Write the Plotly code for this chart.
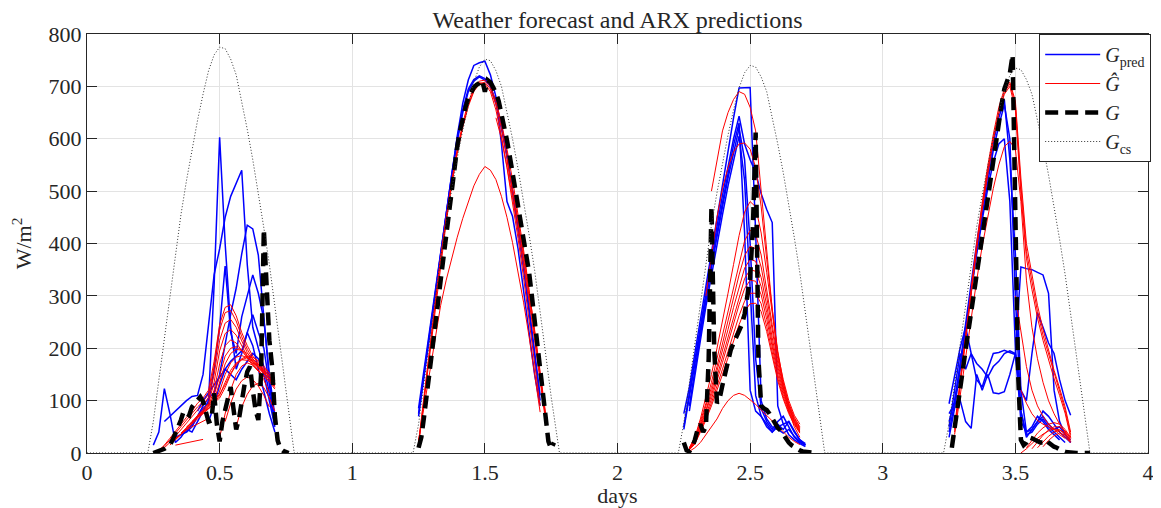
import plotly.graph_objects as go

FONT = "Liberation Serif"
DAYS = [0, 1, 2, 3]

# ---------------- clear-sky irradiance G_cs (hour of day -> W/m2) ----------------
CS_HOURS = [0, 5.5, 6.0, 6.5, 7.0, 7.5, 8.0, 8.5, 9.0, 9.5, 10.0, 10.5, 11.0, 11.5, 12.0,
            12.5, 13.0, 13.5, 14.0, 14.5, 15.0, 15.5, 16.0, 16.5, 17.0, 17.5, 18.0, 18.5, 18.75, 24]
CS_D1 = [0, 0, 60, 140, 220, 300, 385, 455, 520, 580, 635, 685, 730, 760, 775, 772, 752, 722, 672, 618, 560, 497, 430, 360, 280, 195, 110, 35, 0, 0]
CS_D2 = [0, 0, 55, 135, 213, 292, 373, 442, 505, 563, 617, 665, 708, 737, 752, 749, 730, 700, 652, 600, 543, 482, 417, 349, 272, 189, 107, 34, 0, 0]
CS_D3 = [0, 0, 57, 134, 210, 287, 368, 435, 497, 554, 607, 655, 697, 726, 740, 737, 718, 690, 642, 590, 535, 475, 411, 344, 267, 186, 105, 33, 0, 0]
CS_D4 = [0, 0, 56, 133, 209, 285, 365, 432, 493, 550, 603, 650, 693, 721, 735, 732, 713, 685, 638, 586, 531, 472, 408, 341, 265, 185, 104, 33, 0, 0]

# ---------------- measured G (quarter-hour samples from start hour) ----------------
G_STEP_H = 0.25
G_START_H = [6.0, 6.0, 6.0, 6.25]
G_D1 = [0, 2, 3, 5, 8, 12, 15, 25, 38, 48, 63, 80, 76, 72, 88, 95, 101, 107, 98, 80,
        60, 62, 114, 55, 22, 60, 85, 100, 126, 85, 45, 65, 100, 130, 155, 165, 120, 82, 63, 150,
        427, 300, 215, 165, 70, 24, 8, 4, 2, 0]
G_D2 = [10, 30, 70, 110, 150, 195, 240, 285, 330, 375, 418, 460, 505, 545, 585, 615, 640, 660, 678, 690,
        698, 703, 706, 712, 690, 712, 708, 698, 688, 672, 650, 625, 597, 567, 535, 505, 475, 443, 410, 378,
        345, 300, 255, 210, 165, 118, 65, 22, 8, 20]
G_D3 = [20, 5, 3, 10, 25, 45, 55, 40, 50, 180, 470, 200, 95, 105, 130, 155, 180, 197, 210, 222,
        232, 245, 265, 300, 335, 430, 612, 180, 90, 85, 82, 75, 65, 55, 48, 43, 35, 28, 20, 15,
        11, 8, 5, 3, 2, 1, 0, 0, 0]
G_D4 = [10, 50, 88, 125, 160, 197, 233, 270, 305, 342, 378, 415, 450, 487, 522, 560, 595, 630, 665, 695,
        712, 725, 760, 500, 150, 25, 15, 20, 30, 28, 25, 22, 20, 20, 25, 20, 15, 12, 10, 6,
        4, 2, 1, 0, 0, 0, 0, 0, 0, 0, 0]

# ---------------- forecasts: half-hour samples from each start hour ----------------
LINE_STEP_H = 0.5

# weather forecast G_pred
PRED_D1_START_H = [6.0, 7.0, 8.0, 9.0, 10.0, 11.0]
PRED_D1 = [
    [15, 40, 123, 75, 20, 30, 45, 40, 60, 80, 100, 320, 603, 400, 240, 160, 190, 230, 205, 160, 115, 75, 40],
    [60, 70, 80, 90, 100, 108, 110, 150, 250, 340, 390, 450, 490, 515, 540, 360, 240, 200, 165, 115, 55],
    [30, 35, 40, 50, 70, 90, 105, 115, 150, 210, 265, 315, 380, 435, 428, 378, 255, 140, 63],
    [40, 55, 70, 85, 95, 160, 240, 357, 230, 190, 260, 300, 340, 305, 255, 150, 70],
    [80, 100, 115, 130, 145, 160, 175, 185, 195, 230, 264, 230, 200, 130, 60],
    [60, 90, 130, 160, 150, 140, 160, 175, 190, 180, 150, 100, 50],
]
PRED_D2_START_H = [6.0, 6.0, 6.0]
PRED_D2 = [
    [85, 160, 235, 312, 388, 462, 535, 605, 668, 712, 740, 745, 748, 722, 680, 590, 480, 452, 390, 310, 230, 150, 90],
    [70, 148, 226, 304, 380, 455, 527, 595, 650, 690, 710, 718, 712, 700, 670, 625, 570, 505, 435, 360, 280, 195, 110],
    [75, 152, 230, 308, 385, 460, 532, 600, 655, 695, 713, 720, 715, 700, 668, 620, 565, 500, 430, 352, 270, 185, 100],
]
PRED_D3_START_H = [6.0, 6.0, 6.0, 6.5, 6.5]
PRED_D3 = [
    [75, 125, 190, 255, 320, 385, 450, 515, 578, 640, 697, 698, 698, 420, 100, 65, 50, 45, 38, 45, 32, 22, 15],
    [50, 115, 180, 245, 310, 370, 432, 492, 548, 600, 643, 590, 560, 535, 495, 465, 440, 90, 55, 60, 42, 25, 18],
    [45, 108, 172, 236, 298, 360, 420, 478, 535, 588, 630, 420, 120, 80, 70, 55, 40, 50, 55, 35, 25, 18, 12],
    [90, 160, 228, 292, 355, 415, 470, 525, 575, 620, 560, 400, 180, 85, 60, 45, 60, 70, 50, 30, 20, 15],
    [80, 150, 215, 280, 340, 398, 455, 510, 560, 605, 520, 300, 110, 70, 50, 40, 55, 45, 60, 40, 25, 15],
]
PRED_D4_START_H = [6.0, 6.0, 6.0, 6.0, 6.0, 6.0]
PRED_D4 = [
    [40, 95, 170, 250, 325, 400, 470, 535, 592, 640, 675, 560, 380, 120, 40, 45, 60, 70, 55, 45, 50, 35, 20],
    [30, 85, 160, 238, 312, 385, 455, 520, 578, 625, 665, 600, 300, 80, 35, 40, 55, 65, 50, 40, 30, 20],
    [60, 100, 165, 240, 310, 380, 445, 505, 555, 590, 600, 480, 200, 60, 40, 50, 70, 60, 45, 35, 25],
    [75, 95, 101, 60, 47, 150, 120, 150, 115, 113, 117, 150, 190, 355, 352, 350, 345, 340, 305, 120, 60, 35, 25],
    [94, 150, 200, 241, 190, 171, 160, 145, 165, 175, 190, 195, 190, 120, 100, 190, 268, 240, 210, 190, 140, 100, 72],
    [50, 120, 190, 160, 190, 140, 126, 160, 190, 192, 196, 192, 188, 80, 30, 45, 60, 80, 70, 55, 40, 30, 20],
]

# ARX predictions G-hat
ARX_D1_START_H = [6.5, 6.5, 7.0, 7.5, 8.0, 8.5, 9.0, 9.0, 9.5, 10.0, 10.5, 8.0, 7.5, 12.5, 13.5, 12.0]
ARX_D1 = [
    [5, 15, 28, 42, 55, 68, 80, 95, 105, 120, 175, 245, 278, 283, 262, 230, 205, 185, 172, 162, 152],
    [4, 13, 25, 38, 50, 63, 75, 88, 98, 112, 165, 235, 268, 272, 252, 222, 198, 180, 167, 157, 147],
    [10, 20, 32, 45, 58, 70, 82, 92, 105, 150, 215, 248, 255, 240, 214, 192, 175, 163, 152, 142],
    [15, 25, 36, 48, 60, 72, 82, 95, 135, 195, 228, 236, 225, 204, 185, 170, 158, 147, 137],
    [25, 35, 47, 58, 70, 80, 90, 120, 170, 205, 216, 210, 196, 180, 167, 156, 146, 136, 122],
    [38, 48, 60, 70, 80, 90, 110, 150, 185, 200, 203, 196, 186, 175, 164, 154, 143, 130],
    [50, 58, 68, 78, 88, 100, 135, 170, 190, 198, 196, 190, 180, 170, 159, 146, 132],
    [45, 55, 64, 74, 84, 95, 118, 150, 172, 183, 186, 182, 175, 166, 155, 142, 128],
    [60, 68, 76, 84, 95, 110, 135, 158, 172, 178, 177, 172, 163, 152, 140, 125],
    [70, 78, 86, 96, 105, 125, 150, 168, 178, 182, 178, 170, 160, 148, 133],
    [85, 92, 100, 112, 130, 152, 170, 180, 185, 183, 176, 166, 153, 138],
    [15, 17, 19, 21, 23, 26],
    [20, 28, 36, 44, 50, 55, 60, 66],
    [60, 95, 122, 138, 145, 140, 128, 110, 88],
    [50, 88, 112, 128, 133, 125, 105, 80],
    [30, 75, 120, 150, 166, 172, 168, 158, 140, 115],
]
ARX_D2_START_H = [6.0, 6.0, 6.0, 6.0, 13.0, 14.0]
ARX_D2 = [
    [20, 110, 200, 290, 375, 450, 520, 580, 630, 670, 697, 710, 712, 700, 672, 630, 580, 522, 458, 388, 312, 232, 150, 70],
    [15, 100, 190, 280, 365, 440, 512, 572, 622, 662, 690, 705, 708, 695, 665, 620, 565, 505, 440, 372, 300, 225, 145, 65],
    [18, 105, 195, 285, 370, 445, 515, 575, 625, 665, 693, 707, 705, 690, 655, 605, 548, 488, 425, 360, 290, 215, 140, 60],
    [24, 90, 158, 222, 282, 330, 372, 412, 448, 480, 510, 532, 547, 540, 522, 490, 450, 402, 348, 288, 222, 150, 78],
    [640, 600, 545, 480, 410, 335, 255, 170, 90],
    [560, 505, 445, 380, 310, 235, 155, 75],
]
ARX_D3_START_H = [8.5, 8.0, 6.5, 6.5, 6.5, 6.5, 6.5, 6.5, 6.5, 6.5, 6.5]
ARX_D3 = [
    [500, 560, 615, 650, 675, 690, 685, 660, 615, 500, 380, 275, 190, 125, 80, 50, 30],
    [300, 380, 450, 505, 545, 575, 590, 592, 580, 545, 470, 370, 275, 195, 135, 90, 60, 40],
    [10, 30, 65, 105, 150, 200, 250, 305, 360, 415, 460, 480, 470, 420, 345, 265, 190, 140, 100, 72, 55],
    [10, 28, 60, 95, 135, 180, 225, 272, 320, 365, 405, 425, 418, 378, 315, 245, 180, 133, 95, 68, 50],
    [8, 26, 55, 88, 125, 165, 208, 252, 297, 340, 377, 395, 390, 355, 298, 232, 172, 127, 92, 66, 48],
    [8, 24, 52, 82, 117, 155, 195, 236, 278, 318, 353, 370, 366, 335, 282, 220, 165, 122, 88, 63, 46],
    [7, 22, 48, 77, 110, 146, 184, 223, 262, 300, 333, 350, 347, 318, 268, 210, 158, 117, 85, 61, 44],
    [7, 20, 45, 72, 103, 137, 173, 210, 247, 283, 314, 330, 328, 302, 255, 200, 150, 112, 82, 58, 42],
    [6, 18, 42, 67, 96, 127, 160, 194, 228, 262, 290, 305, 305, 285, 242, 190, 143, 107, 78, 56, 40],
    [6, 17, 40, 63, 90, 119, 150, 182, 214, 245, 271, 285, 286, 270, 232, 183, 138, 103, 75, 54, 38],
    [3, 10, 20, 35, 50, 65, 85, 100, 110, 114, 110, 101, 93, 82, 72, 62, 50, 40, 30, 22, 16],
]
ARX_D4_START_H = [6.5, 6.5, 6.5, 6.5, 12.0, 12.5, 13.0, 13.5, 14.0, 14.5, 12.5]
ARX_D4 = [
    [45, 135, 225, 315, 395, 470, 540, 600, 650, 688, 705, 665, 510, 385, 325, 270, 225, 188, 150, 118, 82, 35],
    [40, 128, 218, 308, 390, 465, 535, 597, 648, 685, 700, 655, 495, 372, 312, 258, 215, 178, 142, 110, 76, 30],
    [50, 140, 230, 320, 402, 478, 548, 608, 660, 695, 708, 672, 525, 400, 340, 282, 236, 196, 158, 124, 88, 40],
    [35, 110, 185, 260, 330, 395, 452, 505, 550, 585, 595, 580, 480, 330, 240, 180, 135, 100, 75, 55, 40, 28],
    [300, 230, 165, 120, 90, 70, 55, 45, 35, 28],
    [120, 95, 75, 62, 55, 50, 45, 40, 30, 20],
    [10, 25, 38, 48, 55, 58, 55, 45, 30],
    [8, 22, 34, 44, 50, 50, 42, 28],
    [10, 22, 32, 40, 44, 38, 25],
    [12, 24, 33, 38, 34, 22],
    [0, 8, 18, 28, 36, 42, 46, 44, 36, 22],
]

XTICKS = [0, 0.5, 1, 1.5, 2, 2.5, 3, 3.5, 4]
YTICKS = [0, 100, 200, 300, 400, 500, 600, 700, 800]


def build(starts_per_day, rows_per_day, step_h):
    xs, ys = [], []
    for day, starts, rows in zip(DAYS, starts_per_day, rows_per_day):
        for s, row in zip(starts, rows):
            for j, v in enumerate(row):
                xs.append(day + (s + step_h * j) / 24.0)
                ys.append(v)
            xs.append(None)
            ys.append(None)
    return xs, ys


pred_x, pred_y = build([PRED_D1_START_H, PRED_D2_START_H, PRED_D3_START_H, PRED_D4_START_H],
                       [PRED_D1, PRED_D2, PRED_D3, PRED_D4], LINE_STEP_H)
arx_x, arx_y = build([ARX_D1_START_H, ARX_D2_START_H, ARX_D3_START_H, ARX_D4_START_H],
                     [ARX_D1, ARX_D2, ARX_D3, ARX_D4], LINE_STEP_H)
g_x, g_y = build([[s] for s in G_START_H], [[G_D1], [G_D2], [G_D3], [G_D4]], G_STEP_H)

cs_x, cs_y = [], []
for day, vals in zip(DAYS, [CS_D1, CS_D2, CS_D3, CS_D4]):
    for h, v in zip(CS_HOURS, vals):
        cs_x.append(day + h / 24.0)
        cs_y.append(v)

fig = go.Figure()
fig.add_trace(go.Scatter(x=pred_x, y=pred_y, mode="lines", name="<i>G</i><sub>pred</sub>",
                         line=dict(color="#0000ff", width=1.5), connectgaps=False))
fig.add_trace(go.Scatter(x=arx_x, y=arx_y, mode="lines", name="<i>Ĝ</i>",
                         line=dict(color="#ff0000", width=1.0), connectgaps=False))
fig.add_trace(go.Scatter(x=g_x, y=g_y, mode="lines", name="<i>G</i>",
                         line=dict(color="#000000", width=4.5, dash="13px,7px"), connectgaps=False))
fig.add_trace(go.Scatter(x=cs_x, y=cs_y, mode="lines", name="<i>G</i><sub>cs</sub>",
                         line=dict(color="#333333", width=1, dash="1px,2px")))

axis_common = dict(
    showgrid=True, gridcolor="#e3e3e3", gridwidth=1, zeroline=False,
    showline=True, linecolor="#262626", linewidth=1, mirror="ticks",
    ticks="inside", ticklen=10, tickcolor="#262626", tickwidth=1,
    tickfont=dict(family=FONT, size=22, color="#262626"),
    automargin=False,
)
fig.update_xaxes(range=[0, 4], tickvals=XTICKS, ticktext=[f"{v:g}" for v in XTICKS],
                 title=dict(text="days", font=dict(family=FONT, size=22, color="#262626"), standoff=4),
                 **axis_common)
fig.update_yaxes(range=[0, 800], tickvals=YTICKS,
                 title=dict(text="W/m<sup>2</sup>", font=dict(family=FONT, size=22, color="#262626"), standoff=10),
                 **axis_common)

# the page body adds an 8 px offset, so the figure is sized to the remaining area
fig.update_layout(
    width=1153, height=500,
    margin=dict(l=79, r=10, t=26, b=55),
    paper_bgcolor="white", plot_bgcolor="white",
    title=dict(text="Weather forecast and ARX predictions", x=0.5, xref="paper", xanchor="center",
               y=1 - 12 / 500, yref="container", yanchor="middle",
               font=dict(family=FONT, size=24, color="#262626")),
    legend=dict(x=1.003, y=1, xanchor="right", yanchor="top", bgcolor="white",
                bordercolor="#262626", borderwidth=1, itemwidth=55,
                font=dict(family=FONT, size=20, color="#262626"), tracegroupgap=0),
    showlegend=True,
)

fig.write_html("out.html")
